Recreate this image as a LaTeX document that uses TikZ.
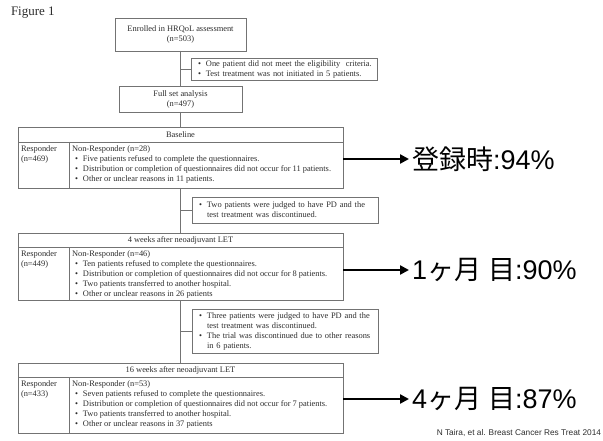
\documentclass[tikz,border=0pt]{standalone}
\usepackage{fontspec}
\setmainfont{Liberation Serif}
\newfontfamily\jpfont{Noto Sans CJK JP}
\newfontfamily\citefont{Liberation Sans}
\usepackage{xcolor}
\definecolor{boxline}{RGB}{115,115,115}
\definecolor{boxtext}{RGB}{45,45,45}
\usepackage{tikz}
\usetikzlibrary{positioning}
\usetikzlibrary{arrows.meta}
\newcommand{\bul}{\hspace*{3pt}\textbullet\hspace{5pt}}
\newcommand{\latin}[1]{{\citefont #1}}

\begin{document}
\begin{tikzpicture}[x=1pt,y=-1pt,every node/.style={inner sep=0pt,outer sep=0pt,text=boxtext,font=\fontsize{8.4}{10}\selectfont},
cellbox/.style={draw=boxline,line width=0.8pt,fill=white},
sidebox/.style={cellbox,align=left,anchor=west,text width=178pt,inner xsep=4pt},
celltext/.style={anchor=north west,align=left},
link/.style={draw=boxline,line width=0.8pt},
bigarrow/.style={line width=2.6pt,-{Triangle[length=9pt,width=9pt]},shorten >=3pt},
bigtext/.style={font=\jpfont\fontsize{27}{30}\selectfont,text=black,anchor=west}]
\useasboundingbox (0,0) rectangle (603,441);
\node[anchor=west,font=\fontsize{13}{15}\selectfont] (fig) at (11,13) {Figure 1};
% enrolment and full set
\node[cellbox,minimum width=131pt,minimum height=33pt,align=center] (enrolled) at (180.5,34.5) {Enrolled in HRQoL assessment\\(n=503)};
\node[sidebox,minimum height=22pt] (excl1) at (191,69) {\bul One patient did not meet the eligibility\ \ criteria.\\\bul Test treatment was not initiated\ in 5 patients.};
\node[cellbox,minimum width=123pt,minimum height=26pt,align=center] (fullset) at (180.5,99) {Full set analysis\\(n=497)};
% baseline
\node[cellbox,minimum width=325pt,minimum height=15pt] (base) at (180.5,134.5) {Baseline};
\node[cellbox,minimum width=325pt,minimum height=46pt,anchor=north] (basebody) at (base.south) {};
\draw[link] ([xshift=51pt]basebody.north west) -- ([xshift=51pt]basebody.south west);
\node[celltext] (baseresp) at ([xshift=3pt,yshift=-4pt]basebody.north west) {Responder\\(n=469)};
\node[celltext] (basenon) at ([xshift=54pt,yshift=-4pt]basebody.north west) {Non-Responder (n=28)\\\bul Five patients refused to complete the questionnaires.\\\bul Distribution\ or completion\ of questionnaires did not occur for 11 patients.\\\bul Other or unclear reasons in 11 patients.};
\node[sidebox,minimum height=26pt] (excl2) at (192,210) {\bul Two patients were judged to have PD and the\\\hspace*{11pt}test treatment was discontinued.};
% 4 weeks
\node[cellbox,minimum width=325pt,minimum height=14pt] (wkfour) at (180.5,240) {4 weeks after neoadjuvant LET};
\node[cellbox,minimum width=325pt,minimum height=53pt,anchor=north] (wkfourbody) at (wkfour.south) {};
\draw[link] ([xshift=51pt]wkfourbody.north west) -- ([xshift=51pt]wkfourbody.south west);
\node[celltext] (wkfourresp) at ([xshift=3pt,yshift=-4pt]wkfourbody.north west) {Responder\\(n=449)};
\node[celltext] (wkfournon) at ([xshift=54pt,yshift=-4pt]wkfourbody.north west) {Non-Responder (n=46)\\\bul Ten patients refused to complete the questionnaires.\\\bul Distribution\ or completion\ of questionnaires did not occur for 8 patients.\\\bul Two patients transferred to another hospital.\\\bul Other or unclear reasons in 26 patients};
\node[sidebox,minimum height=44pt] (excl3) at (192,331) {\bul Three patients were judged to have PD and the\\\hspace*{11pt}test treatment was discontinued.\\\bul The trial was discontinued\ due to other reasons\\\hspace*{11pt}in 6 patients.};
% 16 weeks
\node[cellbox,minimum width=325pt,minimum height=14pt] (wksixteen) at (180.5,370) {16 weeks after neoadjuvant LET};
\node[cellbox,minimum width=325pt,minimum height=56pt,anchor=north] (wksixteenbody) at (wksixteen.south) {};
\draw[link] ([xshift=51pt]wksixteenbody.north west) -- ([xshift=51pt]wksixteenbody.south west);
\node[celltext] (wksixteenresp) at ([xshift=3pt,yshift=-4pt]wksixteenbody.north west) {Responder\\(n=433)};
\node[celltext] (wksixteennon) at ([xshift=54pt,yshift=-4pt]wksixteenbody.north west) {Non-Responder (n=53)\\\bul Seven patients refused to complete the questionnaires.\\\bul Distribution\ or completion\ of questionnaires did not occur for 7 patients.\\\bul Two patients transferred to another hospital.\\\bul Other or unclear reasons in 37 patients};
% connectors
\draw[link] (enrolled) -- (fullset);
\draw[link] (enrolled.south |- excl1.west) -- (excl1.west);
\draw[link] (fullset) -- (base);
\draw[link] (basebody) -- (wkfour);
\draw[link] (basebody.south |- excl2.west) -- (excl2.west);
\draw[link] (wkfourbody) -- (wksixteen);
\draw[link] (wkfourbody.south |- excl3.west) -- (excl3.west);
% response rates
\node[bigtext] (ratebase) at (412,159) {登録時\latin{:94\%}};
\node[bigtext] (ratefour) at (412,270) {\latin{1}ヶ月\hspace{7pt}目\latin{:90\%}};
\node[bigtext] (ratesixteen) at (412,399) {\latin{4}ヶ月\hspace{7pt}目\latin{:87\%}};
\draw[bigarrow] (basebody.east |- ratebase.west) -- (ratebase.west);
\draw[bigarrow] (wkfourbody.east |- ratefour.west) -- (ratefour.west);
\draw[bigarrow] (wksixteenbody.east |- ratesixteen.west) -- (ratesixteen.west);
\node[anchor=east,font=\citefont\fontsize{8.3}{10}\selectfont] (cite) at (601,433) {N Taira, et al. Breast Cancer Res Treat 2014};
\end{tikzpicture}
\end{document}
